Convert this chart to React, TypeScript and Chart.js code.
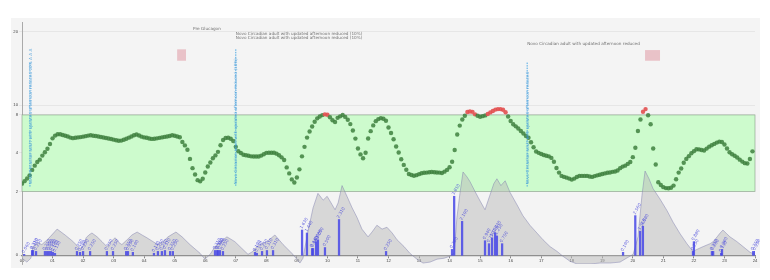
import React, { useEffect, useRef } from "react";
import { Chart, registerables } from "chart.js";

Chart.register(...registerables);

// ---------- data ----------
const X_TICK_LABELS = [
  "00", "01", "02", "03", "04", "05", "06", "07", "08", "09", "10", "11", "12",
  "13", "14", "15", "16", "17", "18", "19", "20", "21", "22", "23", "24",
];
const Y_TICKS = [0, 2, 4, 8, 10, 20];
const TARGET_LOW = 2;
const TARGET_HIGH = 8;

// glucose, mmol/L, one reading every 5 minutes from 00:00
const GLUCOSE = [
  2.40, 2.53, 2.67, 2.83, 3.11, 3.33, 3.52, 3.64, 3.85, 4.04, 4.41, 4.92,
  5.52, 5.81, 5.95, 5.95, 5.87, 5.79, 5.71, 5.60, 5.54, 5.58, 5.62, 5.65,
  5.70, 5.75, 5.81, 5.84, 5.79, 5.76, 5.71, 5.66, 5.61, 5.56, 5.50, 5.45,
  5.38, 5.32, 5.26, 5.28, 5.37, 5.48, 5.59, 5.72, 5.85, 5.92, 5.82, 5.70,
  5.62, 5.58, 5.51, 5.46, 5.47, 5.52, 5.57, 5.62, 5.67, 5.72, 5.77, 5.84,
  5.79, 5.71, 5.64, 5.13, 4.77, 4.31, 3.68, 3.20, 2.87, 2.58, 2.52, 2.65,
  2.98, 3.29, 3.49, 3.71, 3.86, 4.09, 4.78, 5.35, 5.55, 5.58, 5.48, 5.24,
  4.62, 4.15, 3.98, 3.89, 3.87, 3.84, 3.81, 3.80, 3.80, 3.80, 3.85, 3.92,
  3.99, 4.00, 4.00, 4.00, 3.95, 3.87, 3.76, 3.62, 3.24, 2.93, 2.62, 2.46,
  2.72, 3.14, 3.81, 4.62, 5.60, 6.24, 6.77, 7.28, 7.64, 7.83, 7.98, 8.12,
  8.04, 7.75, 7.44, 7.25, 7.69, 7.85, 7.99, 7.79, 7.49, 7.03, 6.35, 5.49,
  4.44, 3.91, 3.71, 4.00, 5.50, 6.28, 6.89, 7.34, 7.56, 7.66, 7.59, 7.38,
  6.67, 6.09, 5.42, 4.65, 4.02, 3.66, 3.37, 3.12, 2.90, 2.85, 2.81, 2.84,
  2.89, 2.94, 2.96, 2.97, 2.99, 3.00, 2.99, 2.98, 2.97, 2.95, 3.02, 3.11,
  3.25, 3.53, 4.29, 5.92, 6.87, 7.51, 7.92, 8.60, 8.72, 8.64, 8.12, 7.91,
  7.81, 7.87, 7.95, 8.20, 8.52, 8.80, 9.10, 9.20, 9.20, 9.06, 8.54, 7.84,
  7.35, 7.01, 6.79, 6.56, 6.30, 6.04, 5.77, 5.58, 5.11, 4.58, 4.12, 3.99,
  3.93, 3.88, 3.84, 3.81, 3.73, 3.53, 3.21, 2.97, 2.80, 2.75, 2.71, 2.66,
  2.61, 2.66, 2.74, 2.80, 2.80, 2.80, 2.80, 2.77, 2.75, 2.79, 2.83, 2.86,
  2.90, 2.93, 2.96, 2.98, 3.01, 3.03, 3.08, 3.20, 3.28, 3.33, 3.42, 3.52,
  3.77, 4.52, 6.30, 7.51, 8.66, 9.20, 7.96, 7.02, 4.45, 3.39, 2.47, 2.33,
  2.22, 2.17, 2.16, 2.19, 2.30, 2.63, 2.97, 3.18, 3.48, 3.68, 3.82, 3.97,
  4.16, 4.37, 4.35, 4.28, 4.23, 4.43, 4.64, 4.78, 4.93, 5.07, 5.17, 5.13,
  4.87, 4.44, 4.05, 3.92, 3.84, 3.75, 3.64, 3.54, 3.46, 3.44, 3.67, 4.14,
];

// insulin on board (units) – outline vertices
const IOB_HOURS = [
  0.00, 0.16, 0.29, 0.36, 0.52, 0.65, 0.79, 0.92, 1.15, 1.41, 1.64, 1.90, 2.00, 2.10, 2.19,
  2.29, 2.46, 2.62, 2.78, 2.91, 3.05, 3.18, 3.27, 3.44, 3.60, 3.77, 3.93, 4.09, 4.29, 4.45,
  4.62, 4.78, 5.04, 5.24, 5.50, 5.83, 5.99, 6.16, 6.32, 6.55, 6.71, 6.97, 7.20, 7.40, 7.56,
  7.69, 7.86, 8.02, 8.28, 8.55, 8.87, 9.10, 9.20, 9.36, 9.53, 9.69, 9.86, 9.99, 10.12, 10.25,
  10.35, 10.48, 10.64, 10.81, 10.97, 11.13, 11.33, 11.46, 11.62, 11.79, 11.95, 12.12, 12.28,
  12.51, 12.70, 12.93, 13.13, 13.36, 13.59, 13.82, 14.01, 14.15, 14.24, 14.34, 14.44, 14.57,
  14.67, 14.83, 15.00, 15.16, 15.32, 15.45, 15.55, 15.68, 15.82, 15.98, 16.21, 16.40, 16.63,
  16.86, 17.06, 17.29, 17.52, 17.71, 17.94, 18.17, 18.60, 18.93, 19.25, 19.58, 19.74, 20.01,
  20.17, 20.30, 20.40, 20.53, 20.66, 20.89, 21.12, 21.32, 21.55, 21.77, 21.97, 22.10, 22.30,
  22.53, 22.63, 22.76, 22.86, 22.95, 23.08, 23.18, 23.41, 23.61, 23.84, 24.00,
];
const IOB_UNITS = [
  -0.19, -0.44, -0.19, 0.56, 0.81, 0.69, 0.94, 1.19, 1.69, 1.31, 0.94, 0.44, 0.56, 1.13, 1.31,
  1.44, 1.19, 0.88, 0.56, 0.88, 1.13, 0.81, 0.69, 1.00, 1.31, 1.50, 1.31, 1.13, 0.88, 0.69,
  0.88, 1.19, 1.50, 1.19, 0.69, 0.13, -0.25, 0.06, 0.56, 0.94, 1.19, 0.88, 0.44, 0.06, 0.25,
  0.56, 0.75, 0.88, 1.31, 0.69, 0.06, -0.50, -0.19, 1.50, 3.06, 4.00, 3.56, 3.81, 3.38, 2.94,
  3.38, 4.50, 3.81, 3.06, 2.44, 1.69, 1.19, 1.50, 1.94, 1.69, 1.81, 1.44, 1.00,
  0.56, 0.13, -0.25, -0.50, -0.44, -0.25, -0.19, -0.06, 0.13, 2.44, 4.00, 5.38, 5.06,
  4.75, 4.13, 3.50, 2.94, 3.88, 4.63, 4.94, 4.50, 4.81, 4.06, 3.25, 2.56, 1.94,
  1.44, 1.00, 0.56, 0.25, -0.06, -0.38, -0.56, -0.56, -0.50, -0.50, -0.44, -0.25, 0.06,
  1.19, 3.88, 5.44, 4.94, 4.31, 3.63, 2.88, 2.13, 1.38, 0.75, 0.25, 0.38, 0.56,
  0.75, 0.88, 1.19, 1.44, 1.63, 1.38, 1.19, 0.88, 0.56, 0.19, 0.06,
];

// insulin deliveries (units)
const BAR_HOURS = [
  0.07, 0.33, 0.36, 0.46, 0.75, 0.82, 0.88, 0.95, 1.01, 1.08, 1.80, 1.90, 2.00, 2.23,
  2.78, 2.98, 3.41, 3.47, 3.63, 4.32, 4.45, 4.58, 4.68, 4.85, 4.94, 6.32, 6.39, 6.42,
  6.48, 6.58, 7.63, 7.69, 7.86, 8.02, 8.22, 9.17, 9.33, 9.50, 9.53, 9.63, 9.69, 9.92,
  10.38, 11.92, 14.08, 14.15, 14.41, 15.16, 15.29, 15.39, 15.49, 15.55, 15.72, 19.68,
  20.08, 20.24, 20.33, 21.97, 22.00, 22.59, 22.63, 22.89, 22.92, 23.94, 24.00,
];
const BAR_UNITS = [
  0.06, 0.31, 0.31, 0.25, 0.25, 0.25, 0.25, 0.25, 0.19, 0.13, 0.25, 0.19, 0.25, 0.25,
  0.25, 0.25, 0.25, 0.25, 0.19, 0.13, 0.25, 0.25, 0.31, 0.25, 0.25, 0.31, 0.31, 0.31,
  0.31, 0.25, 0.19, 0.13, 0.25, 0.31, 0.31, 1.63, 1.44, 0.44, 0.44, 0.88, 1.00, 0.50,
  2.31, 0.25, 0.38, 3.81, 2.19, 0.94, 0.75, 1.13, 1.44, 1.25, 0.75, 0.19,
  2.56, 1.56, 1.88, 0.25, 0.88, 0.25, 0.25, 0.13, 0.38, 0.25, 0.25,
];

// profile-change events
const EVENT_HOURS = [0.26, 7.0, 16.54];
const EVENT_TOP = [15.8, 17.6, 15.8];
const EVENT_BOTTOM = [2.25, 2.25, 2.25];
const EVENT_TEXT = [
  "Novo Circadian adult with updated afternoon reduced 10% A A A",
  "Novo Circadian adult with updated afternoon reduced (10%)",
  "Novo Circadian adult with updated afternoon reduced",
];

// notes at the top
const NOTE_HOURS = [5.6, 7.0, 7.0, 16.54];
const NOTE_GLUCOSE = [20.4, 19.7, 19.1, 18.4];
const NOTE_TEXT = [
  "Pre Glucagon",
  "Novo Circadian adult with updated afternoon reduced (10%)",
  "Novo Circadian adult with updated afternoon reduced (10%)",
  "Novo Circadian adult with updated afternoon reduced",
];

// glucagon boxes
const BOX_START = [5.08, 20.40];
const BOX_END = [5.37, 20.89];
const BOX_TOP = [17.6, 17.5];
const BOX_BOTTOM = [16.05, 16.05];

// ---------- scale helpers ----------
const G_BREAKS = [0, 2, 4, 8, 10, 20];
const U_BREAKS = [0, 66, 106, 145, 155, 231];
function toAxis(g: number): number {
  const n = G_BREAKS.length;
  for (let k = 1; k < n; k++) {
    if (g <= G_BREAKS[k] || k === n - 1) {
      const g0 = G_BREAKS[k - 1], g1 = G_BREAKS[k];
      const u0 = U_BREAKS[k - 1], u1 = U_BREAKS[k];
      return u0 + ((g - g0) * (u1 - u0)) / (g1 - g0);
    }
  }
  return 0;
}
const Y_MIN = -9;
const Y_MAX = 241;
const INS_PX = 16;

const GREEN = "rgba(62,128,62,0.85)";
const RED = "rgba(226,80,80,0.9)";
const TINY = "4.2px 'DejaVu Sans', sans-serif";

const overlay = {
  id: "overlay",
  beforeDatasetsDraw(chart: any) {
    const { ctx, scales } = chart;
    const x = scales.x, y = scales.y;
    const left = x.getPixelForValue(0);
    const right = x.getPixelForValue(24);
    const top = y.getPixelForValue(toAxis(TARGET_HIGH));
    const bot = y.getPixelForValue(toAxis(TARGET_LOW));
    ctx.save();
    ctx.fillStyle = "#cdfbcd";
    ctx.fillRect(left, top, right - left, bot - top);
    ctx.strokeStyle = "rgba(130,150,130,0.7)";
    ctx.lineWidth = 0.8;
    ctx.strokeRect(left, top, right - left, bot - top);
    for (let i = 0; i < BOX_START.length; i++) {
      const x0 = x.getPixelForValue(BOX_START[i]);
      const x1 = x.getPixelForValue(BOX_END[i]);
      const y0 = y.getPixelForValue(toAxis(BOX_TOP[i]));
      const y1 = y.getPixelForValue(toAxis(BOX_BOTTOM[i]));
      ctx.fillStyle = "rgba(225,160,170,0.6)";
      ctx.fillRect(x0, y0, x1 - x0, y1 - y0);
    }
    ctx.restore();
  },
  afterDatasetsDraw(chart: any) {
    const { ctx, scales } = chart;
    const x = scales.x, y = scales.y, y2 = scales.y2;
    ctx.save();
    // event lines
    for (let i = 0; i < EVENT_HOURS.length; i++) {
      const px = x.getPixelForValue(EVENT_HOURS[i]);
      const t = y.getPixelForValue(toAxis(EVENT_TOP[i]));
      const b = y.getPixelForValue(toAxis(EVENT_BOTTOM[i]));
      ctx.strokeStyle = "rgba(60,160,225,0.9)";
      ctx.lineWidth = 1;
      ctx.setLineDash([1.5, 1]);
      ctx.beginPath();
      ctx.moveTo(px, t);
      ctx.lineTo(px, b);
      ctx.stroke();
      ctx.setLineDash([]);
      ctx.save();
      ctx.translate(px + 0.5, b);
      ctx.rotate(-Math.PI / 2);
      ctx.font = TINY;
      ctx.fillStyle = "rgba(60,150,215,0.8)";
      ctx.textAlign = "left";
      ctx.textBaseline = "middle";
      ctx.fillText(EVENT_TEXT[i], 2, 0);
      ctx.restore();
    }
    // notes
    ctx.font = TINY;
    ctx.fillStyle = "rgba(90,90,90,0.85)";
    ctx.textAlign = "left";
    ctx.textBaseline = "middle";
    for (let i = 0; i < NOTE_HOURS.length; i++) {
      ctx.fillText(
        NOTE_TEXT[i],
        x.getPixelForValue(NOTE_HOURS[i]),
        y.getPixelForValue(toAxis(NOTE_GLUCOSE[i]))
      );
    }
    // bar labels
    ctx.fillStyle = "rgba(70,70,220,0.85)";
    for (let i = 0; i < BAR_HOURS.length; i++) {
      const px = x.getPixelForValue(BAR_HOURS[i]);
      const py = y2.getPixelForValue(BAR_UNITS[i]);
      ctx.save();
      ctx.translate(px - 1, py - 1.5);
      ctx.rotate(-Math.PI / 3);
      ctx.fillText(BAR_UNITS[i].toFixed(3), 0, 0);
      ctx.restore();
    }
    ctx.restore();
  },
};

export default function App() {
  const ref = useRef<HTMLCanvasElement | null>(null);
  useEffect(() => {
    if (!ref.current) return;
    const chart = new Chart(ref.current, {
      type: "scatter",
      data: {
        datasets: [
          {
            type: "scatter",
            data: GLUCOSE.map((g, i) => ({ x: (i * 5) / 60, y: toAxis(g) })),
            pointRadius: 2.2,
            pointBorderWidth: 0,
            pointBackgroundColor: (c: any) => (GLUCOSE[c.dataIndex] > TARGET_HIGH ? RED : GREEN),
            yAxisID: "y",
            order: 0,
          } as any,
          {
            type: "bar",
            data: BAR_HOURS.map((h, i) => ({ x: h, y: BAR_UNITS[i] })),
            backgroundColor: "rgba(70,70,230,0.85)",
            barThickness: 1.6,
            grouped: false,
            yAxisID: "y2",
            order: 1,
          } as any,
          {
            type: "line",
            data: IOB_HOURS.map((h, i) => ({ x: h, y: IOB_UNITS[i] })),
            fill: "origin",
            backgroundColor: "rgba(185,185,185,0.5)",
            borderColor: "rgba(130,130,175,0.7)",
            borderWidth: 0.7,
            pointRadius: 0,
            tension: 0,
            yAxisID: "y2",
            order: 2,
          } as any,
        ],
      },
      options: {
        animation: false,
        responsive: false,
        maintainAspectRatio: false,
        layout: { padding: { left: 0, right: 5, top: 0, bottom: 0 } },
        plugins: { legend: { display: false }, tooltip: { enabled: false } },
        scales: {
          x: {
            type: "linear",
            min: 0,
            max: 24,
            offset: false,
            position: { y: 0 } as any,
            ticks: {
              stepSize: 1,
              autoSkip: false,
              maxRotation: 0,
              padding: 1,
              font: { size: 4.2 },
              color: "#444",
              callback: (v: any) => X_TICK_LABELS[Math.round(Number(v))],
            },
            grid: { offset: false, drawOnChartArea: false, tickLength: 2, color: "#888" },
            border: { color: "#8a8a8a", width: 1.3 },
            afterFit: (s: any) => {
              s.paddingLeft = 0;
              s.paddingRight = 0;
            },
          },
          y: {
            type: "linear",
            min: Y_MIN,
            max: Y_MAX,
            position: "left",
            afterBuildTicks: (axis: any) => {
              axis.ticks = Y_TICKS.map((g) => ({ value: toAxis(g) }));
            },
            ticks: {
              padding: 1,
              font: { size: 4.2 },
              color: "#444",
              callback: (_v: any, i: number) => String(Y_TICKS[i]),
            },
            grid: { color: "rgba(0,0,0,0.07)", tickLength: 3, lineWidth: 0.8 },
            border: { color: "#aaa", width: 1 },
            afterFit: (s: any) => {
              s.width = 11;
              s.paddingTop = 0;
              s.paddingBottom = 0;
            },
          },
          y2: {
            type: "linear",
            display: false,
            min: Y_MIN / INS_PX,
            max: Y_MAX / INS_PX,
          },
        },
      },
      plugins: [overlay],
    });
    return () => chart.destroy();
  }, []);
  return (
    <div style={{ paddingTop: 10, paddingLeft: 3 }}>
      <div style={{ width: 749, height: 250, background: "#f4f4f4" }}>
        <canvas ref={ref} width={749} height={250} style={{ width: 749, height: 250, display: "block" }} />
      </div>
    </div>
  );
}
